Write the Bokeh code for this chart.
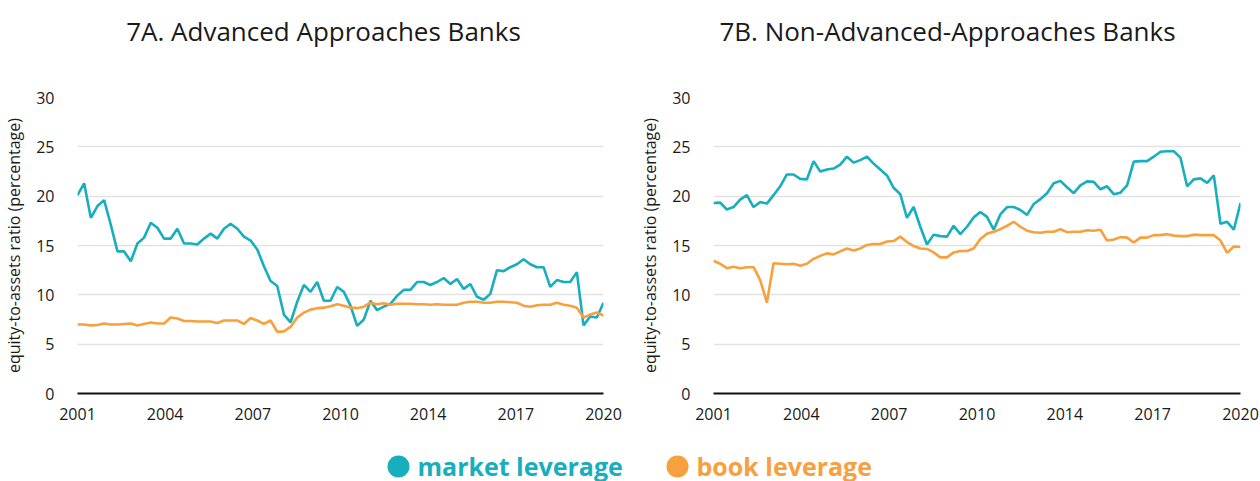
import numpy as np
from bokeh.plotting import figure
from bokeh.layouts import column, row
from bokeh.models import Range1d, FixedTicker
from bokeh.core.properties import value
from bokeh.embed import file_html
from bokeh.resources import INLINE

x_labels = ["2001", "2004", "2007", "2010", "2014", "2017", "2020"]
y_ticks = [0, 5, 10, 15, 20, 25, 30]

titles = ["7A. Advanced Approaches Banks", "7B. Non-Advanced-Approaches Banks"]
series_names = ["market leverage", "book leverage"]
series_colors = ["#17AEBD", "#F8A03D"]

# quarterly, 2001Q1 .. 2020Q4
adv_market = [20.1, 21.3, 17.8, 19.0, 19.6, 17.1, 14.4, 14.4, 13.4, 15.2,
              15.8, 17.3, 16.8, 15.7, 15.7, 16.7, 15.2, 15.2, 15.1, 15.7,
              16.2, 15.7, 16.7, 17.2, 16.7, 15.9, 15.5, 14.6, 12.9, 11.4,
              10.9, 8.0, 7.2, 9.3, 11.0, 10.3, 11.3, 9.4, 9.4, 10.8,
              10.3, 8.9, 6.85, 7.5, 9.4, 8.45, 8.8, 9.1, 9.9, 10.5,
              10.5, 11.3, 11.3, 11.0, 11.3, 11.7, 11.1, 11.6, 10.6, 11.1,
              9.8, 9.5, 10.1, 12.5, 12.4, 12.8, 13.1, 13.6, 13.1, 12.8,
              12.8, 10.8, 11.5, 11.3, 11.3, 12.3, 6.9, 7.8, 7.7, 9.2]
adv_book = [7.0, 7.0, 6.9, 6.95, 7.1, 7.0, 7.0, 7.05, 7.1, 6.9,
            7.05, 7.2, 7.1, 7.1, 7.7, 7.6, 7.35, 7.35, 7.3, 7.3,
            7.3, 7.15, 7.4, 7.4, 7.4, 7.05, 7.65, 7.4, 7.05, 7.4,
            6.25, 6.3, 6.75, 7.7, 8.2, 8.5, 8.65, 8.7, 8.85, 9.05,
            8.9, 8.7, 8.65, 8.8, 9.2, 9.05, 9.15, 9.0, 9.1, 9.1,
            9.1, 9.05, 9.05, 9.0, 9.05, 9.0, 9.0, 9.0, 9.2, 9.3,
            9.3, 9.2, 9.2, 9.3, 9.3, 9.25, 9.2, 8.9, 8.8, 8.95,
            9.0, 9.0, 9.2, 9.0, 8.9, 8.7, 7.7, 8.0, 8.2, 7.9]
non_market = [19.3, 19.35, 18.65, 18.9, 19.65, 20.1, 18.9, 19.4, 19.25, 20.1,
              21.0, 22.2, 22.2, 21.75, 21.7, 23.55, 22.5, 22.7, 22.8, 23.2,
              24.0, 23.4, 23.65, 24.0, 23.3, 22.7, 22.1, 20.85, 20.2, 17.8,
              18.9, 16.9, 15.1, 16.1, 15.95, 15.9, 17.0, 16.15, 16.9, 17.85,
              18.4, 17.9, 16.6, 18.15, 18.9, 18.9, 18.6, 18.1, 19.2, 19.7,
              20.3, 21.3, 21.55, 20.9, 20.3, 21.1, 21.5, 21.45, 20.7, 21.0,
              20.2, 20.35, 21.1, 23.5, 23.55, 23.55, 24.0, 24.5, 24.55, 24.55,
              23.9, 21.0, 21.7, 21.8, 21.35, 22.1, 17.2, 17.4, 16.6, 19.3]
non_book = [13.45, 13.15, 12.7, 12.85, 12.7, 12.8, 12.8, 11.5, 9.2, 13.2,
            13.15, 13.1, 13.15, 12.95, 13.15, 13.65, 13.95, 14.2, 14.1, 14.4,
            14.7, 14.5, 14.7, 15.05, 15.15, 15.15, 15.4, 15.45, 15.9, 15.35,
            14.95, 14.7, 14.65, 14.3, 13.8, 13.8, 14.3, 14.45, 14.45, 14.7,
            15.65, 16.2, 16.4, 16.65, 17.0, 17.4, 16.9, 16.5, 16.35, 16.3,
            16.4, 16.4, 16.65, 16.35, 16.4, 16.4, 16.55, 16.5, 16.6, 15.5,
            15.6, 15.85, 15.8, 15.3, 15.8, 15.8, 16.05, 16.05, 16.15, 16.0,
            15.95, 15.95, 16.1, 16.05, 16.05, 16.05, 15.5, 14.25, 14.9, 14.85]

FONT = "Open Sans"
TEXT_COLOR = "#1a1a1a"


def strip(height):
    s = figure(width=1260, height=height, x_range=Range1d(0, 1260),
               y_range=Range1d(0, height), output_backend="svg",
               toolbar_location=None, x_axis_type=None, y_axis_type=None,
               min_border=0)
    s.outline_line_color = None
    s.xgrid.grid_line_color = None
    s.ygrid.grid_line_color = None
    return s


def make_panel(market, book, left, right):
    n = len(market)
    x = np.arange(n) * (len(x_labels) - 1) / (n - 1)
    p = figure(width=630, height=380, x_range=Range1d(0, len(x_labels) - 1),
               y_range=Range1d(0, 30), output_backend="svg",
               toolbar_location=None, min_border_left=left,
               min_border_right=right, min_border_bottom=42, min_border_top=42)
    p.outline_line_color = None
    p.line(x, market, color=series_colors[0], line_width=2.6)
    p.line(x, book, color=series_colors[1], line_width=2.6)

    p.xgrid.grid_line_color = None
    p.ygrid.grid_line_color = "#e2e2e2"
    p.ygrid.grid_line_width = 1.5
    p.ygrid.ticker = FixedTicker(ticks=y_ticks)

    p.yaxis.ticker = FixedTicker(ticks=y_ticks)
    p.yaxis.axis_line_color = None
    p.yaxis.major_tick_line_color = None
    p.yaxis.minor_tick_line_color = None
    p.yaxis.major_label_standoff = 17
    p.yaxis.major_label_text_font_size = "16px"
    p.yaxis.major_label_text_font = FONT
    p.yaxis.major_label_text_color = TEXT_COLOR
    p.yaxis.axis_label = "equity-to-assets ratio (percentage)"
    p.yaxis.axis_label_text_font_size = "16px"
    p.yaxis.axis_label_text_font_style = "normal"
    p.yaxis.axis_label_text_font = FONT
    p.yaxis.axis_label_text_color = TEXT_COLOR
    p.yaxis.axis_label_standoff = 8

    p.xaxis.ticker = FixedTicker(ticks=list(range(len(x_labels))))
    p.xaxis.major_label_overrides = {i: lab for i, lab in enumerate(x_labels)}
    p.xaxis.axis_line_color = "#111111"
    p.xaxis.axis_line_width = 2
    p.xaxis.major_tick_line_color = None
    p.xaxis.minor_tick_line_color = None
    p.xaxis.major_label_standoff = 8
    p.xaxis.major_label_text_font_size = "16px"
    p.xaxis.major_label_text_font = FONT
    p.xaxis.major_label_text_color = TEXT_COLOR
    return p


# title strip
head = strip(55)
head.text(x=[323, 947], y=[25, 25], text=titles, text_color=TEXT_COLOR,
          text_baseline="middle", text_align="center", text_font_size="26px",
          text_font=value(FONT))

p1 = make_panel(adv_market, adv_book, 75, 27)
p2 = make_panel(non_market, non_book, 83, 20)

# legend strip
leg = strip(46)
leg_x = [398, 677]
leg.scatter(x=leg_x, y=[15, 15], size=22, color=series_colors, line_color=None)
leg.text(x=[v + 19 for v in leg_x], y=[16, 16], text=series_names,
         text_color=series_colors, text_baseline="middle", text_align="left",
         text_font_size="25px", text_font=value(FONT), text_font_style="bold")

layout = column(head, row(p1, p2), leg)
open("out.html", "w").write(file_html(layout, INLINE))
